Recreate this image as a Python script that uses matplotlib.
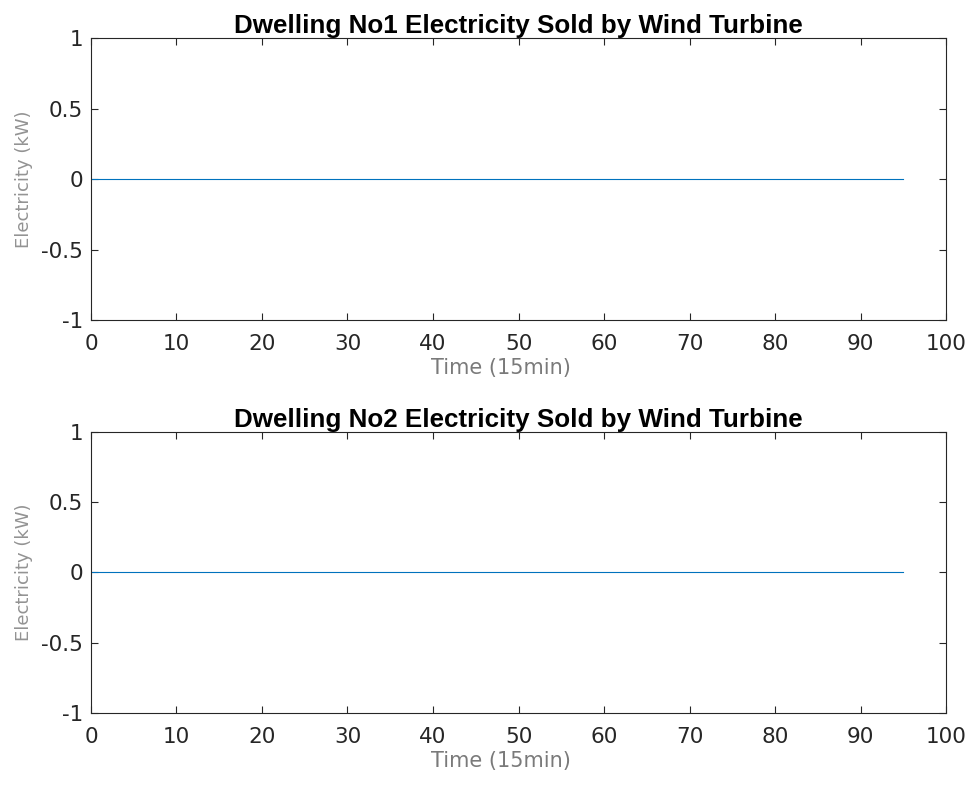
import numpy as np
import matplotlib
matplotlib.use("Agg")
import matplotlib.pyplot as plt

# Electricity sold per 15-minute interval (96 intervals in a day)
time_steps = list(range(0, 96))
dwelling1_sold = [0.0] * 96
dwelling2_sold = [0.0] * 96

titles = ["Dwelling No1 Electricity Sold by Wind Turbine",
          "Dwelling No2 Electricity Sold by Wind Turbine"]
series = [dwelling1_sold, dwelling2_sold]
x_ticks = [0, 10, 20, 30, 40, 50, 60, 70, 80, 90, 100]
y_ticks = [-1, -0.5, 0, 0.5, 1]
y_tick_labels = ["-1", "-0.5", "0", "0.5", "1"]

plt.rcParams["font.family"] = ["DejaVu Sans"]
axis_color = "#262626"

fig = plt.figure(figsize=(9.74, 7.89), dpi=100)
positions = [
    [0.0934, 0.5944, 0.8779, 0.3574],
    [0.0934, 0.0963, 0.8779, 0.3562],
]

for pos, title, values in zip(positions, titles, series):
    ax = fig.add_axes(pos)
    ax.plot(time_steps, values, color="#0072BD", linewidth=0.8)
    ax.set_xlim(0, 100)
    ax.set_ylim(-1, 1)
    ax.set_xticks(x_ticks)
    ax.set_yticks(y_ticks)
    ax.set_yticklabels(y_tick_labels)
    ax.tick_params(direction="in", length=5, width=0.8, colors=axis_color,
                   labelsize=15.5, top=True, right=True)
    ax.tick_params(axis="x", pad=10)
    ax.tick_params(axis="y", pad=5.5)
    for spine in ax.spines.values():
        spine.set_color(axis_color)
        spine.set_linewidth(0.8)
    ax.set_title(title, fontsize=18.7, fontweight="bold", color="black",
                 family=["Liberation Sans", "DejaVu Sans"], pad=3.5)
    ax.set_xlabel("Time (15min)", fontsize=15, color="#7a7a7a")
    ax.set_ylabel("Electricity (kW)", fontsize=13, color="#939393", labelpad=6)
    ax.xaxis.set_label_coords(0.479, -0.135)

fig.savefig("out.png", dpi=100)
